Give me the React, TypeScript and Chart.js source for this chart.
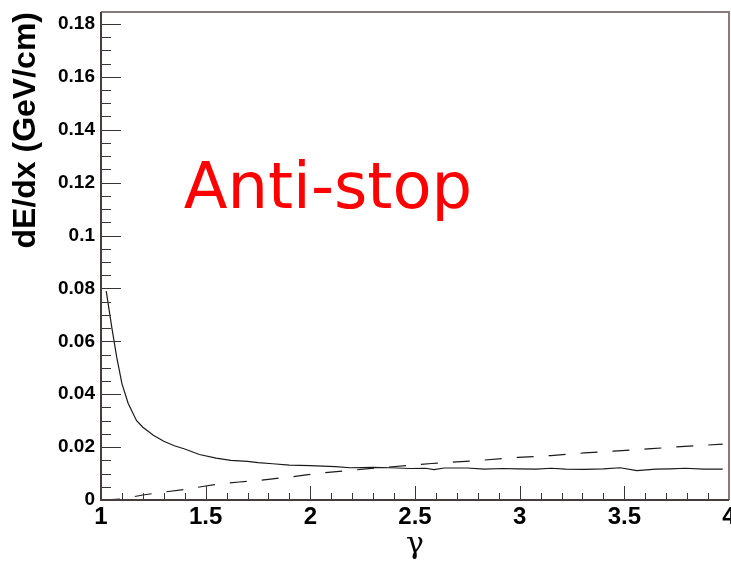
import React, { useEffect, useRef } from 'react';
import { Chart, registerables } from 'chart.js';

Chart.register(...registerables);

// Energy loss of the anti-stop versus Lorentz factor
const GAMMA_SOLID = [
  1.025, 1.05, 1.075, 1.1, 1.13, 1.17, 1.2, 1.25, 1.3, 1.35, 1.4, 1.47, 1.55, 1.62,
  1.7, 1.75, 1.82, 1.9, 2.0, 2.06, 2.12, 2.19, 2.3, 2.38, 2.48, 2.55, 2.59, 2.64,
  2.75, 2.83, 2.92, 2.99, 3.08, 3.15, 3.22, 3.31, 3.4, 3.48, 3.56, 3.65, 3.72,
  3.79, 3.88, 3.97,
];
const DEDX_SOLID = [
  0.079, 0.066, 0.054, 0.044, 0.0365, 0.03, 0.0275, 0.0245, 0.0222, 0.0205, 0.0193,
  0.0172, 0.0158, 0.015, 0.0146, 0.0141, 0.0137, 0.0132, 0.013, 0.0128, 0.0126,
  0.0122, 0.0123, 0.0122, 0.0119, 0.012, 0.0115, 0.0121, 0.0121, 0.0117, 0.0119,
  0.0118, 0.0117, 0.012, 0.0117, 0.0116, 0.0118, 0.0122, 0.0111, 0.0117, 0.0118,
  0.012, 0.0117, 0.0117,
];

const GAMMA_DASHED = [
  1.01, 1.1, 1.2, 1.3, 1.41, 1.5, 1.585, 1.66, 1.745, 1.82, 1.904, 1.98, 2.064, 2.19,
  2.33, 2.478, 2.58, 2.7, 2.83, 2.99, 3.15, 3.31, 3.47, 3.63, 3.79, 3.97,
];
const DEDX_DASHED = [
  0.0, 0.0004, 0.0019, 0.003, 0.0041, 0.0053, 0.0063, 0.0068, 0.0073, 0.008, 0.0087,
  0.0095, 0.0103, 0.0112, 0.0122, 0.0131, 0.0138, 0.0144, 0.0151, 0.0161, 0.0168,
  0.0178, 0.0186, 0.0194, 0.0203, 0.0211,
];

const X_TICKS = [1, 1.5, 2, 2.5, 3, 3.5, 4];
const Y_TICKS = [0, 0.02, 0.04, 0.06, 0.08, 0.1, 0.12, 0.14, 0.16, 0.18];
const X_RANGE = [1, 4];
const Y_RANGE = [0, 0.1845];
const X_MINOR = 0.1;
const Y_MINOR = 0.005;

const LABEL_TEXT = 'Anti-stop';
const LABEL_POS = [1.395, 0.1105];

const toPoints = (xs: number[], ys: number[]) => xs.map((x, i) => ({ x, y: ys[i] }));

const framePlugin = {
  id: 'rootFrame',
  afterDatasetsDraw(chart: any) {
    const { ctx, chartArea, scales } = chart;
    const { left, right, top, bottom } = chartArea;
    const xs = scales.x;
    const ys = scales.y;
    ctx.save();

    // inward tick marks on the bottom and left axes
    ctx.strokeStyle = '#3a3333';
    ctx.lineWidth = 1;
    ctx.beginPath();
    const nx = Math.round((X_RANGE[1] - X_RANGE[0]) / X_MINOR);
    for (let i = 0; i <= nx; i++) {
      const v = X_RANGE[0] + i * X_MINOR;
      const px = Math.round(xs.getPixelForValue(v)) + 0.5;
      const len = i % 5 === 0 ? 14 : 7;
      ctx.moveTo(px, bottom);
      ctx.lineTo(px, bottom - len);
    }
    const ny = Math.floor(Y_RANGE[1] / Y_MINOR + 1e-6);
    for (let i = 0; i <= ny; i++) {
      const v = i * Y_MINOR;
      const py = Math.round(ys.getPixelForValue(v)) + 0.5;
      const len = i % 4 === 0 ? 20 : 10;
      ctx.moveTo(left, py);
      ctx.lineTo(left + len, py);
    }
    ctx.stroke();

    // frame
    ctx.lineWidth = 2;
    ctx.strokeStyle = '#8a7a7a';
    ctx.beginPath();
    ctx.moveTo(left, top);
    ctx.lineTo(right, top);
    ctx.lineTo(right, bottom);
    ctx.stroke();
    ctx.strokeStyle = '#4a3c3c';
    ctx.beginPath();
    ctx.moveTo(left, top);
    ctx.lineTo(left, bottom);
    ctx.lineTo(right, bottom);
    ctx.stroke();

    // particle label
    ctx.fillStyle = '#ff0000';
    ctx.font = '64px "DejaVu Sans"';
    ctx.textAlign = 'left';
    ctx.textBaseline = 'alphabetic';
    ctx.fillText(LABEL_TEXT, xs.getPixelForValue(LABEL_POS[0]), ys.getPixelForValue(LABEL_POS[1]));
    ctx.restore();
  },
};

export default function App() {
  const ref = useRef<HTMLCanvasElement | null>(null);

  useEffect(() => {
    document.body.style.margin = '0';
    const canvas = ref.current;
    if (!canvas) return;
    const chart = new Chart(canvas, {
      type: 'line',
      data: {
        datasets: [
          {
            data: toPoints(GAMMA_SOLID, DEDX_SOLID),
            borderColor: '#1a1a1a',
            borderWidth: 1.2,
            pointRadius: 0,
            tension: 0,
            fill: false,
          },
          {
            data: toPoints(GAMMA_DASHED, DEDX_DASHED),
            borderColor: '#1a1a1a',
            borderWidth: 1.2,
            borderDash: [17, 15],
            pointRadius: 0,
            tension: 0,
            fill: false,
          },
        ],
      },
      options: {
        animation: false,
        responsive: false,
        layout: { padding: { top: 12, right: 2, left: 0, bottom: 0 } },
        plugins: { legend: { display: false }, tooltip: { enabled: false } },
        scales: {
          x: {
            type: 'linear',
            min: X_RANGE[0],
            max: X_RANGE[1],
            afterBuildTicks: (s: any) => {
              s.ticks = X_TICKS.map((value) => ({ value }));
            },
            ticks: {
              font: { family: '"Liberation Sans", Arial, sans-serif', size: 24, weight: 'bold' },
              color: '#000',
              padding: 3,
              maxRotation: 0,
              autoSkip: false,
              callback: (v: any) => String(v),
            },
            grid: { display: false, drawTicks: false },
            border: { display: false },
            title: {
              display: true,
              text: 'γ',
              color: '#000',
              font: { family: '"DejaVu Serif", serif', size: 30 },
              padding: { top: 0, bottom: 2 },
            },
            afterFit: (s: any) => {
              s.height = 65;
              s.paddingLeft = 0;
              s.paddingRight = 0;
            },
          },
          y: {
            type: 'linear',
            min: Y_RANGE[0],
            max: Y_RANGE[1],
            afterBuildTicks: (s: any) => {
              s.ticks = Y_TICKS.map((value) => ({ value }));
            },
            ticks: {
              font: { family: '"Liberation Sans", Arial, sans-serif', size: 19, weight: 'bold' },
              color: '#000',
              padding: 6,
              autoSkip: false,
              callback: (v: any) => String(v),
            },
            grid: { display: false, drawTicks: false },
            border: { display: false },
            title: {
              display: true,
              text: 'dE/dx (GeV/cm)',
              align: 'end',
              color: '#000',
              font: { family: '"Liberation Sans", Arial, sans-serif', size: 32, weight: 'bold' },
              padding: { top: 7, bottom: 0 },
            },
            afterFit: (s: any) => {
              s.width = 101;
              s.paddingTop = 0;
              s.paddingBottom = 0;
            },
          },
        },
      },
      plugins: [framePlugin],
    } as any);
    return () => chart.destroy();
  }, []);

  return (
    <div style={{ width: 731, height: 565, background: '#fff' }}>
      <canvas ref={ref} width={731} height={565} style={{ display: 'block' }} />
    </div>
  );
}
